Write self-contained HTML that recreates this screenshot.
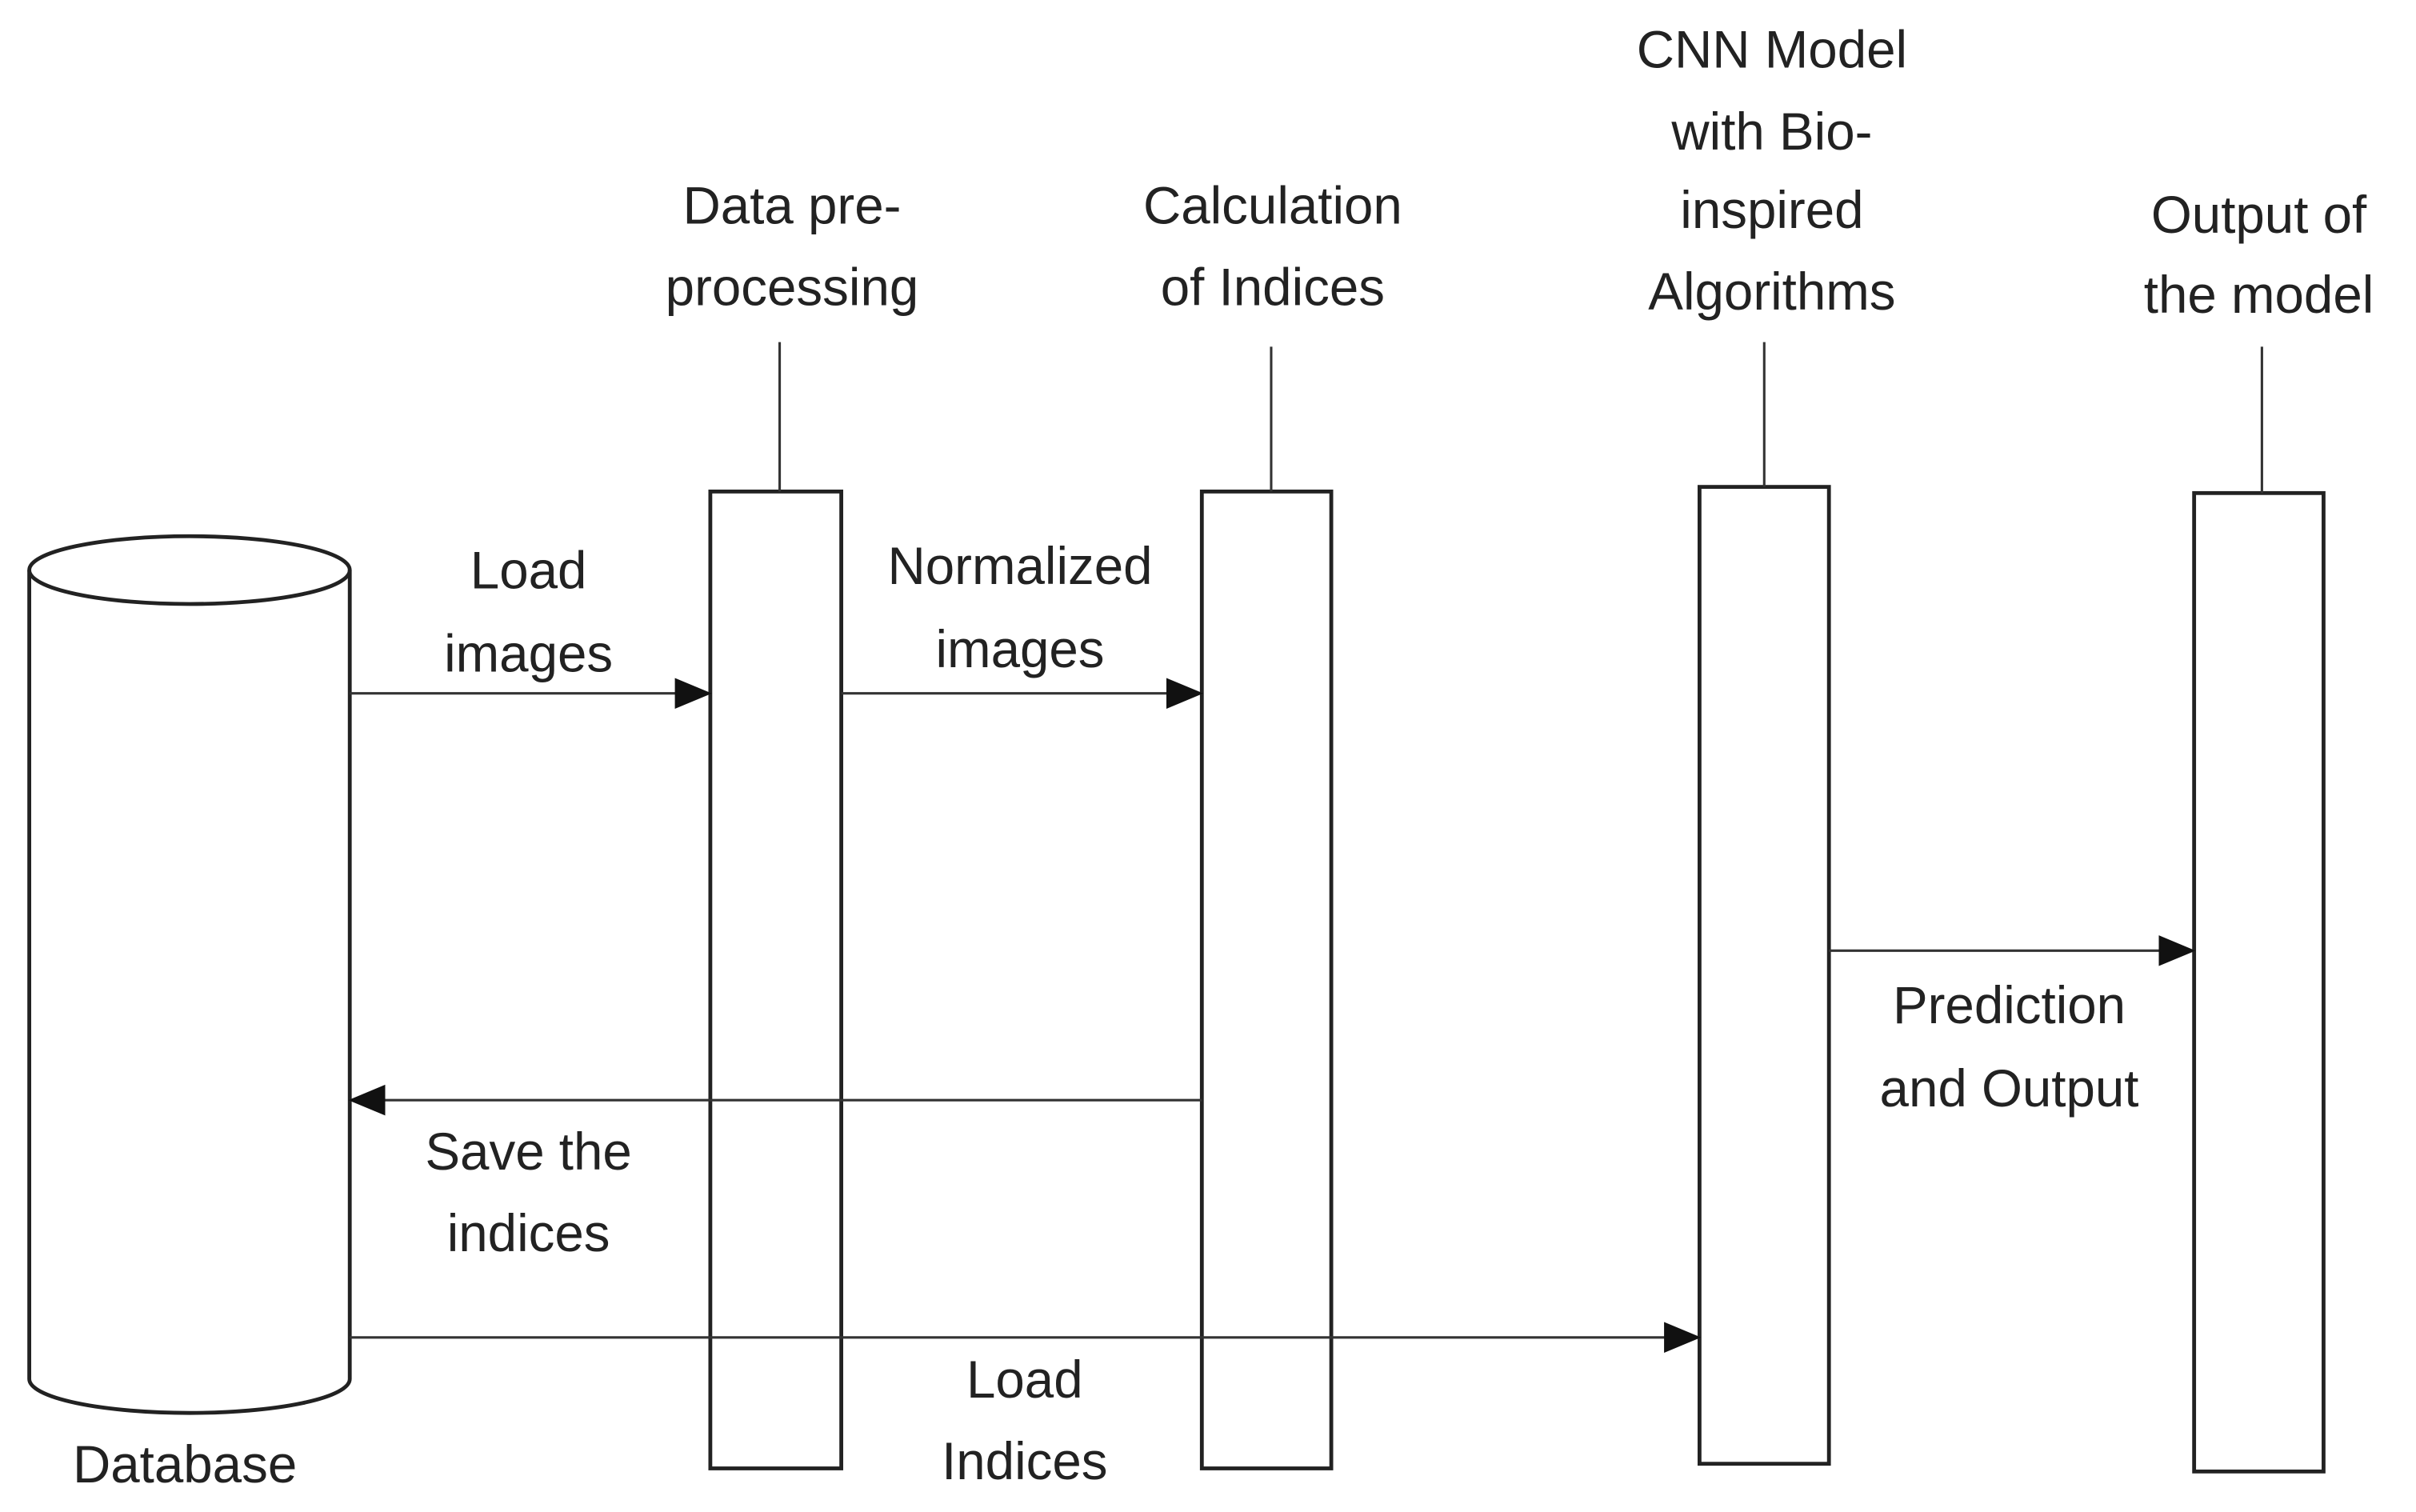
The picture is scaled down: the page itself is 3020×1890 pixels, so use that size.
<!DOCTYPE html>
<html><head><meta charset="utf-8"><style>html,body{margin:0;padding:0;background:#fff}svg{display:block}</style></head>
<body>
<svg width="3020" height="1890" viewBox="0 0 1568 981.3" preserveAspectRatio="none" xmlns="http://www.w3.org/2000/svg">
<defs>
<marker id="b" viewBox="0 0 24 24" markerWidth="24" markerHeight="24" refX="23" refY="12" orient="auto" markerUnits="userSpaceOnUse"><path d="M0,2 L24,12 L0,22 z" fill="#111"/></marker></defs>
<g fill="none" stroke="#222" stroke-width="2.5">
<path d="M19,370 L19,895 A104,22 0 0 0 227,895 L227,370"/>
<ellipse cx="123" cy="370" rx="104" ry="22"/>
<rect x="461" y="319" width="85" height="634"/>
<rect x="780" y="319" width="84" height="634"/>
<rect x="1103" y="316" width="84" height="634"/>
<rect x="1424" y="320" width="84" height="635"/>
</g>
<g stroke="#333" stroke-width="1.6">
<line x1="506" y1="222" x2="506" y2="319"/>
<line x1="825" y1="225" x2="825" y2="319"/>
<line x1="1145" y1="222" x2="1145" y2="316"/>
<line x1="1468" y1="225" x2="1468" y2="320"/>
<line x1="227" y1="450" x2="461" y2="450" marker-end="url(#b)"/>
<line x1="546" y1="450" x2="780" y2="450" marker-end="url(#b)"/>
<line x1="780" y1="714" x2="227" y2="714" marker-end="url(#b)"/>
<line x1="227" y1="868" x2="1103" y2="868" marker-end="url(#b)"/>
<line x1="1187" y1="617" x2="1424" y2="617" marker-end="url(#b)"/>
</g>
<g font-family="Liberation Sans, sans-serif" font-size="34" fill="#222" text-anchor="middle">
<text x="514" y="145">Data pre-</text><text x="514" y="198">processing</text>
<text x="826" y="145">Calculation</text><text x="826" y="198">of Indices</text>
<text x="1150" y="44">CNN Model</text><text x="1150" y="97">with Bio-</text><text x="1150" y="148">inspired</text><text x="1150" y="201">Algorithms</text>
<text x="1466" y="151">Output of</text><text x="1466" y="203">the model</text>
<text x="343" y="382">Load</text><text x="343" y="436">images</text>
<text x="662" y="379">Normalized</text><text x="662" y="433">images</text>
<text x="343" y="759">Save the</text><text x="343" y="812">indices</text>
<text x="665" y="907">Load</text><text x="665" y="960">Indices</text>
<text x="1304" y="664">Prediction</text><text x="1304" y="718">and Output</text>
<text x="120" y="962">Database</text>
</g>
</svg>
</body></html>
